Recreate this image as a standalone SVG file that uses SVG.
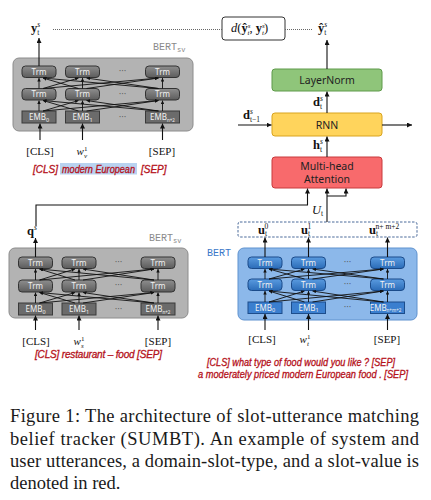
<svg xmlns="http://www.w3.org/2000/svg" width="431" height="500" viewBox="0 0 431 500">
<defs>
<linearGradient id="gT" x1="0" y1="0" x2="0" y2="1"><stop offset="0" stop-color="#8e8e8e"/><stop offset="1" stop-color="#5c5c5c"/></linearGradient>
<linearGradient id="bT" x1="0" y1="0" x2="0" y2="1"><stop offset="0" stop-color="#5a9be0"/><stop offset="1" stop-color="#2b6cb8"/></linearGradient>
<marker id="a" viewBox="0 0 6 6" refX="6" refY="3" markerWidth="5" markerHeight="5" orient="auto" markerUnits="userSpaceOnUse"><path d="M0,0 L6,3 L0,6 z" fill="#111"/></marker>
<marker id="s" viewBox="0 0 6 6" refX="6" refY="3" markerWidth="3.5" markerHeight="3.5" orient="auto" markerUnits="userSpaceOnUse"><path d="M0,0 L6,3 L0,6 z" fill="#111"/></marker>
</defs>
<style>
.bg{fill:#b3b3b3;stroke:#8c8c8c;stroke-width:1}
.bb{fill:#8cb8ea;stroke:#5f92cf;stroke-width:1}
.gt{fill:url(#gT);stroke:#333;stroke-width:1}
.bt{fill:url(#bT);stroke:#1b4b8a;stroke-width:1}
.ge{fill:#6b6b6b;stroke:#3a3a3a;stroke-width:1}
.be{fill:#3b7fcf;stroke:#1c4d8c;stroke-width:1}
.tt{font-family:"Noto Sans","DejaVu Sans",sans-serif;font-size:8px;fill:#f2f2f2;text-anchor:middle}
.dots{font-family:"DejaVu Sans",sans-serif;font-size:8px;fill:#555;text-anchor:middle}
.lbl{font-family:"Liberation Serif",serif;font-size:11px;fill:#111;text-anchor:middle}
.m{font-family:"Liberation Serif",serif;font-size:12.5px;fill:#111}
.red{font-family:"Liberation Sans",sans-serif;font-style:italic;font-size:10px;fill:#b5121b;stroke:#b5121b;stroke-width:0.3}
.bx{font-family:"Noto Sans","DejaVu Sans",sans-serif;font-size:10.5px;fill:#222;text-anchor:middle}
.mono{font-family:"Liberation Mono",monospace;font-size:10px;fill:#8a8a8a}
.c{stroke:#111;stroke-width:1.1;fill:none}
.x{stroke:#111;stroke-width:0.9;fill:none;marker-end:url(#s)}
.dot{stroke:#666;stroke-width:1;stroke-dasharray:1 1;fill:none}
.cap{font-family:"Liberation Serif",serif;font-size:18.5px;fill:#1a1a1a}
</style>

<!-- top-left BERT_sv -->
<g id="bert-sv-top">
<rect class="bg" x="13" y="58" width="180" height="73" rx="6"/>
<text class="mono" x="153" y="50">BERT<tspan font-size="7" dy="2">sv</tspan></text>
<rect class="gt" x="22" y="66" width="34" height="11.5" rx="3.5"/><text class="tt" x="39" y="74.5">Trm</text>
<rect class="gt" x="65.5" y="66" width="34" height="11.5" rx="3.5"/><text class="tt" x="82.5" y="74.5">Trm</text>
<rect class="gt" x="145.5" y="66" width="34" height="11.5" rx="3.5"/><text class="tt" x="162.5" y="74.5">Trm</text>
<rect class="gt" x="22" y="88.5" width="34" height="11.5" rx="3.5"/><text class="tt" x="39" y="97">Trm</text>
<rect class="gt" x="65.5" y="88.5" width="34" height="11.5" rx="3.5"/><text class="tt" x="82.5" y="97">Trm</text>
<rect class="gt" x="145.5" y="88.5" width="34" height="11.5" rx="3.5"/><text class="tt" x="162.5" y="97">Trm</text>
<rect class="ge" x="22" y="111" width="34" height="12"/><text class="tt" x="39" y="120">EMB<tspan font-size="5.5" dy="1.5">0</tspan></text>
<rect class="ge" x="65.5" y="111" width="34" height="12"/><text class="tt" x="82.5" y="120">EMB<tspan font-size="5.5" dy="1.5">1</tspan></text>
<rect class="ge" x="145.5" y="111" width="34" height="12"/><text class="tt" x="162.5" y="120">EMB<tspan font-size="4.5" dy="1.5">n+2</tspan></text>
<text class="dots" x="122.5" y="74">···</text><text class="dots" x="122.5" y="96.5">···</text><text class="dots" x="122.5" y="119.5">···</text>
</g>

<!-- bottom-left BERT_sv -->
<g id="bert-sv-bottom">
<rect class="bg" x="9" y="248" width="179" height="70" rx="6"/>
<text class="mono" x="149" y="241">BERT<tspan font-size="7" dy="2">sv</tspan></text>
<rect class="gt" x="18.5" y="257" width="34" height="11.5" rx="3.5"/><text class="tt" x="35.5" y="265.5">Trm</text>
<rect class="gt" x="62" y="257" width="34" height="11.5" rx="3.5"/><text class="tt" x="79" y="265.5">Trm</text>
<rect class="gt" x="141" y="257" width="34" height="11.5" rx="3.5"/><text class="tt" x="158" y="265.5">Trm</text>
<rect class="gt" x="18.5" y="280" width="34" height="12" rx="3.5"/><text class="tt" x="35.5" y="288.8">Trm</text>
<rect class="gt" x="62" y="280" width="34" height="12" rx="3.5"/><text class="tt" x="79" y="288.8">Trm</text>
<rect class="gt" x="141" y="280" width="34" height="12" rx="3.5"/><text class="tt" x="158" y="288.8">Trm</text>
<rect class="ge" x="18.5" y="303" width="34" height="12"/><text class="tt" x="35.5" y="312">EMB<tspan font-size="5.5" dy="1.5">0</tspan></text>
<rect class="ge" x="62" y="303" width="34" height="12"/><text class="tt" x="79" y="312">EMB<tspan font-size="5.5" dy="1.5">1</tspan></text>
<rect class="ge" x="141" y="303" width="34" height="12"/><text class="tt" x="158" y="312">EMB<tspan font-size="4.5" dy="1.5">n+2</tspan></text>
<text class="dots" x="118.5" y="265">···</text><text class="dots" x="118.5" y="288">···</text><text class="dots" x="118.5" y="311.5">···</text>
</g>

<!-- right BERT -->
<g id="bert-utt">
<rect class="bb" x="238" y="248" width="179" height="72" rx="6"/>
<text class="mono" x="207" y="256" style="fill:#3a78c8">BERT</text>
<rect class="bt" x="248" y="257" width="34" height="11.5" rx="3.5"/><text class="tt" x="265" y="265.5">Trm</text>
<rect class="bt" x="291.5" y="257" width="34" height="11.5" rx="3.5"/><text class="tt" x="308.5" y="265.5">Trm</text>
<rect class="bt" x="370.5" y="257" width="34" height="11.5" rx="3.5"/><text class="tt" x="387.5" y="265.5">Trm</text>
<rect class="bt" x="248" y="279" width="34" height="11.5" rx="3.5"/><text class="tt" x="265" y="287.5">Trm</text>
<rect class="bt" x="291.5" y="279" width="34" height="11.5" rx="3.5"/><text class="tt" x="308.5" y="287.5">Trm</text>
<rect class="bt" x="370.5" y="279" width="34" height="11.5" rx="3.5"/><text class="tt" x="387.5" y="287.5">Trm</text>
<rect class="be" x="248" y="302" width="34" height="11.5"/><text class="tt" x="265" y="310.5">EMB<tspan font-size="5.5" dy="1.5">0</tspan></text>
<rect class="be" x="291.5" y="302" width="34" height="11.5"/><text class="tt" x="308.5" y="310.5">EMB<tspan font-size="5.5" dy="1.5">1</tspan></text>
<rect class="be" x="370.5" y="302" width="34" height="11.5"/><text class="tt" x="385.5" y="310.5">EMB<tspan font-size="4.5" dy="1.5">n+m+2</tspan></text>
<text class="dots" x="347.5" y="265">···</text><text class="dots" x="347.5" y="287">···</text><text class="dots" x="347.5" y="310">···</text>
</g>

<g id="utt-outputs">
<rect x="238" y="222" width="179" height="15" rx="2" fill="#fff" stroke="#4a6a9a" stroke-width="1" stroke-dasharray="2.5 1.5"/>
<text class="m" x="258" y="234"><tspan font-weight="bold">u</tspan><tspan font-size="7.5" dy="2">t</tspan><tspan font-size="7.5" dx="-2.5" dy="-7.5">0</tspan></text>
<text class="m" x="301" y="234"><tspan font-weight="bold">u</tspan><tspan font-size="7.5" dy="2">t</tspan><tspan font-size="7.5" dx="-2.5" dy="-7.5">1</tspan></text>
<text class="m" x="369" y="234"><tspan font-weight="bold">u</tspan><tspan font-size="7.5" dy="2">t</tspan><tspan font-size="7.5" dx="-2.5" dy="-7.5">n+ m+2</tspan></text>
</g>

<g id="mha">
<rect x="272" y="157" width="110" height="31" rx="3" fill="#f86a6c" stroke="#c83a3c" stroke-width="1"/>
<text class="bx" x="327" y="169.5">Multi-head</text>
<text class="bx" x="327" y="182.5">Attention</text>
</g>
<g id="rnn">
<rect x="272" y="113" width="110" height="23" rx="3" fill="#ffd45c" stroke="#d9a41e" stroke-width="1"/>
<text class="bx" x="327" y="128.5" font-size="11">RNN</text>
</g>
<g id="layernorm">
<rect x="272" y="69" width="110" height="22" rx="3" fill="#8fc57a" stroke="#5e9a4a" stroke-width="1"/>
<text class="bx" x="327" y="84" font-size="11">LayerNorm</text>
</g>
<g id="distance">
<rect x="222" y="17" width="63" height="23" rx="3" fill="#fff" stroke="#333" stroke-width="1"/>
<text class="m" x="231" y="32" font-size="11.5"><tspan font-style="italic">d</tspan>(<tspan font-weight="bold">ŷ</tspan><tspan font-size="7" font-style="italic" dy="-4.5">s</tspan><tspan font-size="7" font-style="italic" dx="-2.8" dy="7.5">t</tspan><tspan dy="-3">, </tspan><tspan font-weight="bold">y</tspan><tspan font-size="7" font-style="italic" dy="-4.5">s</tspan><tspan font-size="7" font-style="italic" dx="-2.8" dy="7.5">t</tspan><tspan dy="-3">)</tspan></text>
</g>

<g id="labels">
<text class="m" x="31" y="32"><tspan font-weight="bold">y</tspan><tspan font-size="7.5" font-style="italic" dy="-5.5">s</tspan><tspan font-size="7.5" dx="-3" dy="8">t</tspan></text>
<text class="m" x="318" y="32"><tspan font-weight="bold">ŷ</tspan><tspan font-size="7.5" font-style="italic" dy="-5.5">s</tspan><tspan font-size="7.5" dx="-3" dy="8">t</tspan></text>
<text class="m" x="313" y="106"><tspan font-weight="bold">d</tspan><tspan font-size="7.5" font-style="italic" dy="-5.5">s</tspan><tspan font-size="7.5" dx="-3" dy="8">t</tspan></text>
<text class="m" x="243" y="119"><tspan font-weight="bold">d</tspan><tspan font-size="7.5" font-style="italic" dy="-5.5">s</tspan><tspan font-size="7.5" dx="-3" dy="8">t−1</tspan></text>
<text class="m" x="313" y="149"><tspan font-weight="bold">h</tspan><tspan font-size="7.5" font-style="italic" dy="-5.5">s</tspan><tspan font-size="7.5" dx="-3" dy="8">t</tspan></text>
<text class="m" x="312" y="214" font-style="italic">U<tspan font-size="7.5" font-style="normal" dy="2">t</tspan></text>
<text class="m" x="27" y="235"><tspan font-weight="bold">q</tspan><tspan font-size="7.5" font-style="italic" dy="-5.5">s</tspan></text>
<text class="lbl" x="40" y="155">[CLS]</text>
<text class="lbl" x="82" y="155"><tspan font-style="italic">w</tspan><tspan font-size="7" dy="-4.5">1</tspan><tspan font-size="7" font-style="italic" dx="-3.5" dy="7">v</tspan></text>
<text class="lbl" x="162" y="155">[SEP]</text>
<text class="lbl" x="36" y="345">[CLS]</text>
<text class="lbl" x="79" y="345"><tspan font-style="italic">w</tspan><tspan font-size="7" dy="-4.5">1</tspan><tspan font-size="7" font-style="italic" dx="-3.5" dy="7">s</tspan></text>
<text class="lbl" x="158" y="345">[SEP]</text>
<text class="lbl" x="262" y="343">[CLS]</text>
<text class="lbl" x="305" y="343"><tspan font-style="italic">w</tspan><tspan font-size="7" dy="-4.5">1</tspan><tspan font-size="7" font-style="italic" dx="-3.5" dy="7">t</tspan></text>
<text class="lbl" x="387" y="343">[SEP]</text>
<rect x="60" y="163" width="77" height="11.5" fill="#b9d3f0"/>
<text class="red" x="33" y="172.5">[CLS]</text>
<text class="red" x="62" y="172.5" textLength="73" lengthAdjust="spacingAndGlyphs">modern European</text>
<text class="red" x="141" y="172.5">[SEP]</text>
<text class="red" x="35" y="357.5" textLength="127" lengthAdjust="spacing">[CLS]  restaurant  – food  [SEP]</text>
<text class="red" x="207" y="365.5" textLength="188" lengthAdjust="spacingAndGlyphs">[CLS] what type of food would you like ? [SEP]</text>
<text class="red" x="198" y="378" textLength="210" lengthAdjust="spacingAndGlyphs">a moderately priced modern European food . [SEP]</text>
</g>

<g id="connectors">
<path class="dot" d="M53,29.5 H222 M285,29.5 H313"/>
<path class="c" d="M39,66 V38" marker-end="url(#a)"/>
<path class="c" d="M40,140 V123.5" marker-end="url(#a)"/>
<path class="c" d="M82.5,140 V123.5" marker-end="url(#a)"/>
<path class="c" d="M162.5,140 V123.5" marker-end="url(#a)"/>
<path class="c" d="M35.5,330 V315.5" marker-end="url(#a)"/>
<path class="c" d="M79,330 V315.5" marker-end="url(#a)"/>
<path class="c" d="M158,330 V315.5" marker-end="url(#a)"/>
<path class="c" d="M265,330 V314" marker-end="url(#a)"/>
<path class="c" d="M308.5,330 V314" marker-end="url(#a)"/>
<path class="c" d="M387.5,330 V314" marker-end="url(#a)"/>
<path class="c" d="M35.5,257 V238" marker-end="url(#a)"/>
<path class="c" d="M36,226 V205 H307.5 V188.5" marker-end="url(#a)"/>
<path class="c" d="M327,222 V188.5" marker-end="url(#a)"/>
<path class="c" d="M327,196 H346 V188.5" marker-end="url(#a)"/>
<path class="c" d="M265,257 V237.5" marker-end="url(#a)"/>
<path class="c" d="M308.5,257 V237.5" marker-end="url(#a)"/>
<path class="c" d="M387.5,257 V237.5" marker-end="url(#a)"/>
<path class="c" d="M327,157 V136.5" marker-end="url(#a)"/>
<path class="c" d="M327,113 V91.5" marker-end="url(#a)"/>
<path class="c" d="M327,69 V40" marker-end="url(#a)"/>
<path class="c" d="M238,125 H271.5" marker-end="url(#a)"/>
<path class="c" d="M382,125 H412" marker-end="url(#a)"/>
<!-- cross links top-left -->
<path class="x" d="M39,111 V100.5"/><path class="x" d="M43,111 L78.5,100.5"/><path class="x" d="M43,111 L158.5,100.5"/>
<path class="x" d="M78.5,111 L43,100.5"/><path class="x" d="M82.5,111 V100.5"/><path class="x" d="M86.5,111 L158.5,100.5"/>
<path class="x" d="M158.5,111 L43,100.5"/><path class="x" d="M158.5,111 L86.5,100.5"/><path class="x" d="M162.5,111 V100.5"/>
<path class="x" d="M39,88.5 V78"/><path class="x" d="M43,88.5 L78.5,78"/><path class="x" d="M43,88.5 L158.5,78"/>
<path class="x" d="M78.5,88.5 L43,78"/><path class="x" d="M82.5,88.5 V78"/><path class="x" d="M86.5,88.5 L158.5,78"/>
<path class="x" d="M158.5,88.5 L43,78"/><path class="x" d="M158.5,88.5 L86.5,78"/><path class="x" d="M162.5,88.5 V78"/>
<!-- cross links bottom-left -->
<path class="x" d="M35.5,303 V292.5"/><path class="x" d="M39.5,303 L75,292.5"/><path class="x" d="M39.5,303 L154,292.5"/>
<path class="x" d="M75,303 L39.5,292.5"/><path class="x" d="M79,303 V292.5"/><path class="x" d="M83,303 L154,292.5"/>
<path class="x" d="M154,303 L39.5,292.5"/><path class="x" d="M154,303 L83,292.5"/><path class="x" d="M158,303 V292.5"/>
<path class="x" d="M35.5,280 V269"/><path class="x" d="M39.5,280 L75,269"/><path class="x" d="M39.5,280 L154,269"/>
<path class="x" d="M75,280 L39.5,269"/><path class="x" d="M79,280 V269"/><path class="x" d="M83,280 L154,269"/>
<path class="x" d="M154,280 L39.5,269"/><path class="x" d="M154,280 L83,269"/><path class="x" d="M158,280 V269"/>
<!-- cross links right -->
<path class="x" d="M265,302 V291"/><path class="x" d="M269,302 L304.5,291"/><path class="x" d="M269,302 L383.5,291"/>
<path class="x" d="M304.5,302 L269,291"/><path class="x" d="M308.5,302 V291"/><path class="x" d="M312.5,302 L383.5,291"/>
<path class="x" d="M383.5,302 L269,291"/><path class="x" d="M383.5,302 L312.5,291"/><path class="x" d="M387.5,302 V291"/>
<path class="x" d="M265,279 V269"/><path class="x" d="M269,279 L304.5,269"/><path class="x" d="M269,279 L383.5,269"/>
<path class="x" d="M304.5,279 L269,269"/><path class="x" d="M308.5,279 V269"/><path class="x" d="M312.5,279 L383.5,269"/>
<path class="x" d="M383.5,279 L269,269"/><path class="x" d="M383.5,279 L312.5,269"/><path class="x" d="M387.5,279 V269"/>
</g>

<g id="caption">
<text class="cap" x="10" y="422" textLength="409" lengthAdjust="spacing">Figure 1:  The architecture of slot-utterance matching</text>
<text class="cap" x="10" y="445" textLength="409" lengthAdjust="spacing">belief tracker (SUMBT). An example of system and</text>
<text class="cap" x="10" y="467" textLength="409" lengthAdjust="spacing">user utterances, a domain-slot-type, and a slot-value is</text>
<text class="cap" x="10" y="489">denoted in red.</text>
</g>
</svg>
